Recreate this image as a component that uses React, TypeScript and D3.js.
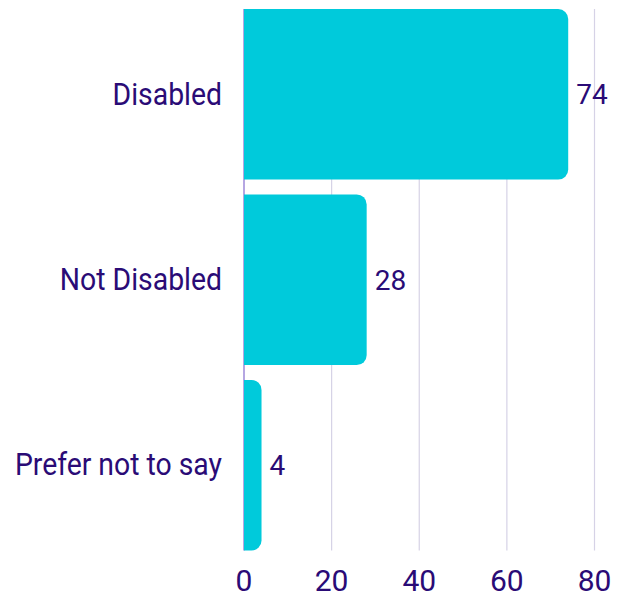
import React from "react";
import * as d3 from "d3";

const categories = ["Disabled", "Not Disabled", "Prefer not to say"];
const values = [74, 28, 4];
const tickValues = [0, 20, 40, 60, 80];

const W = 625;
const H = 597;
const LEFT = 244;
const RIGHT = 594.5;
const TOP = 9;
const BOTTOM = 550.5;
const BAR = "#00CADB";
const TEXT = "#2A0B76";
const GRID = "#D6D2E6";
const ZERO = "#9C88D8";
const FONT = "Roboto, 'Noto Sans', sans-serif";

function barPath(x0: number, x1: number, y0: number, h: number, r: number) {
  const rr = Math.min(r, (x1 - x0), h / 2);
  const p = d3.path();
  p.moveTo(x0, y0);
  p.lineTo(x1 - rr, y0);
  p.arcTo(x1, y0, x1, y0 + rr, rr);
  p.lineTo(x1, y0 + h - rr);
  p.arcTo(x1, y0 + h, x1 - rr, y0 + h, rr);
  p.lineTo(x0, y0 + h);
  p.closePath();
  return p.toString();
}

export default function App() {
  const x = d3.scaleLinear().domain([0, 80]).range([LEFT, RIGHT]);
  const y = d3
    .scaleBand<string>()
    .domain(categories)
    .range([TOP, BOTTOM])
    .paddingInner(0.08)
    .paddingOuter(0);

  return (
    <svg
      width={W}
      height={H}
      style={{ position: "absolute", left: 0, top: 0, background: "#fff" }}
      fontFamily={FONT}
    >
      {tickValues.map((t) => (
        <line
          key={"g" + t}
          x1={x(t)}
          x2={x(t)}
          y1={TOP}
          y2={BOTTOM}
          stroke={t === 0 ? ZERO : GRID}
          strokeWidth={t === 0 ? 1.5 : 1.2}
        />
      ))}
      {categories.map((c, i) => {
        const y0 = y(c)!;
        const h = y.bandwidth();
        const cy = y0 + h / 2;
        return (
          <g key={c}>
            <path d={barPath(x(0), x(values[i]), y0, h, 10)} fill={BAR} />
            <text
              x={x(values[i]) + 8}
              y={cy}
              dy="0.35em"
              fontSize={28}
              fill={TEXT}
              textAnchor="start"
            >
              {values[i]}
            </text>
            <g transform={`translate(222,${cy}) scale(0.915,1)`}>
              <text x={0} y={0} dy="0.33em" fontSize={31} fill={TEXT} textAnchor="end">
                {c}
              </text>
            </g>
          </g>
        );
      })}
      {tickValues.map((t) => (
        <text
          key={"t" + t}
          x={x(t)}
          y={BOTTOM + 40}
          fontSize={30}
          fill={TEXT}
          textAnchor="middle"
        >
          {t}
        </text>
      ))}
    </svg>
  );
}
